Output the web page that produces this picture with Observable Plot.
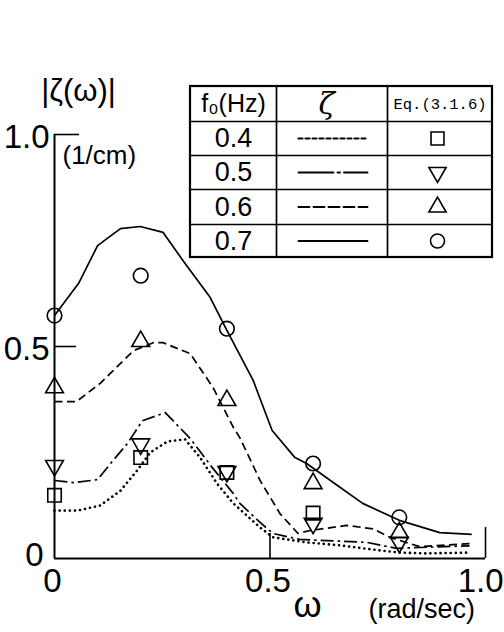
<!DOCTYPE html>
<html><head><meta charset="utf-8">
<script src="https://cdn.jsdelivr.net/npm/d3@7"></script>
<script src="https://cdn.jsdelivr.net/npm/@observablehq/plot@0.6"></script>
<style>body{margin:0;background:#fff} svg{display:block}</style>
</head><body><div id="chart"></div>
<script>
// ---- data ----
const seriesNames = ["0.4", "0.5", "0.6", "0.7"];
const dashPatterns = ["0.1,5", "13,4,2.5,4", "8,4.5", "none"];
const legendDash = ["4,3", "35,4,2.5,4", "11,4", "none"];
const markerSymbols = ["square", "triangle", "triangle", "circle"];
const markerRotate = [0, 180, 0, 0];

// computed curves (ζ)
const omega04 = [0, 0.053, 0.106, 0.153, 0.192, 0.222, 0.262, 0.303, 0.338, 0.377, 0.415, 0.477, 0.507, 0.585, 0.662, 0.755, 0.80, 0.863, 0.963];
const zeta04  = [0.113, 0.113, 0.125, 0.16, 0.208, 0.25, 0.276, 0.281, 0.238, 0.177, 0.13, 0.073, 0.05, 0.038, 0.031, 0.019, 0.014, 0.012, 0.014];
const omega05 = [0, 0.044, 0.10, 0.13, 0.169, 0.204, 0.257, 0.315, 0.368, 0.415, 0.43, 0.477, 0.507, 0.569, 0.725, 0.794, 0.847, 0.963];
const zeta05  = [0.184, 0.179, 0.186, 0.224, 0.271, 0.325, 0.344, 0.283, 0.212, 0.153, 0.13, 0.085, 0.059, 0.045, 0.038, 0.024, 0.026, 0.03];
const omega06 = [0, 0.051, 0.106, 0.183, 0.229, 0.252, 0.315, 0.368, 0.415, 0.43, 0.477, 0.523, 0.565, 0.593, 0.678, 0.739, 0.778, 0.847, 0.963];
const zeta06  = [0.37, 0.37, 0.413, 0.49, 0.509, 0.509, 0.483, 0.403, 0.309, 0.285, 0.184, 0.106, 0.059, 0.066, 0.078, 0.07, 0.05, 0.028, 0.035];
const omega07 = [0, 0.056, 0.10, 0.153, 0.199, 0.252, 0.30, 0.361, 0.40, 0.461, 0.505, 0.558, 0.585, 0.65, 0.715, 0.80, 0.894, 0.968];
const zeta07  = [0.573, 0.649, 0.738, 0.778, 0.783, 0.769, 0.70, 0.616, 0.538, 0.42, 0.302, 0.238, 0.224, 0.177, 0.13, 0.09, 0.061, 0.057];

// Eq.(3.1.6) markers
const markerOmega = [0, 0.2, 0.4, 0.6];
const markerOmegaFull = [0, 0.2, 0.4, 0.6, 0.8];
const eq04 = [0.149, 0.238, 0.203, 0.107];
const eq05 = [0.219, 0.27, 0.205, 0.083, 0.038];
const eq06 = [0.403, 0.512, 0.373, 0.177, 0.061];
const eq07 = [0.573, 0.667, 0.542, 0.224, 0.097];

// axis ticks
const xTickLabels = ["0", "0.5", "1.0"];
const xTickValues = [0, 0.5, 1.0];
const yTickLabels = ["0", "0.5", "1.0"];
const yTickValues = [0, 0.5, 1.0];

// ---- build tables ----
const curves = [
  {name: "0.4", x: omega04, y: zeta04},
  {name: "0.5", x: omega05, y: zeta05},
  {name: "0.6", x: omega06, y: zeta06},
  {name: "0.7", x: omega07, y: zeta07}
];
const markerSets = [
  {name: "0.4", x: markerOmega, y: eq04},
  {name: "0.5", x: markerOmegaFull, y: eq05},
  {name: "0.6", x: markerOmegaFull, y: eq06},
  {name: "0.7", x: markerOmegaFull, y: eq07}
];

// layout helpers (pixel -> data for table placement)
const X0 = 54, XW = 431, Y0 = 558, YH = 424;
const px = p => (p - X0) / XW;
const py = p => (Y0 - p) / YH;

const FONT = "Liberation Sans, Arial, sans-serif";
const marks = [];

// curves
curves.forEach((c, i) => {
  const pts = c.x.map((x, j) => ({x, y: c.y[j]}));
  marks.push(Plot.line(pts, {x: "x", y: "y", stroke: "#000", strokeWidth: i === 0 ? 2.6 : 1.7,
    strokeDasharray: dashPatterns[i], strokeLinecap: i === 0 ? "round" : "butt", strokeLinejoin: "round"}));
});
// markers
markerSets.forEach((m, i) => {
  const pts = m.x.map((x, j) => ({x, y: m.y[j]}));
  marks.push(Plot.dot(pts, {x: "x", y: "y", symbol: () => markerSymbols[i], rotate: markerRotate[i],
    r: markerSymbols[i] === "circle" ? 7.3 : (markerSymbols[i] === "square" ? 7.6 : 6.6),
    stroke: "#000", strokeWidth: 1.6, fill: "none"}));
});

// axes frame
marks.push(Plot.ruleY([0], {x1: 0, x2: 1.0, stroke: "#000", strokeWidth: 2}));
marks.push(Plot.ruleX([0], {y1: 0, y2: 1.0, stroke: "#000", strokeWidth: 2}));
// inward ticks
marks.push(Plot.ruleY([0.5], {x1: 0, x2: 0.051, stroke: "#000", strokeWidth: 1.6}));
marks.push(Plot.ruleY([1.0], {x1: 0, x2: 0.058, stroke: "#000", strokeWidth: 1.6}));
marks.push(Plot.ruleX([0.5], {y1: 0, y2: 0.059, stroke: "#000", strokeWidth: 1.6}));
marks.push(Plot.ruleX([1.0], {y1: 0, y2: 0.073, stroke: "#000", strokeWidth: 1.6}));

// tick labels
const yLab = yTickValues.map((v, i) => ({v, t: yTickLabels[i]}));
marks.push(Plot.text(yLab.filter(d => d.v > 0), {x: () => 0, y: "v", text: "t", textAnchor: "end", dx: -5, dy: 3, fontSize: 33, fontFamily: FONT}));
marks.push(Plot.text(yLab.filter(d => d.v === 0), {x: () => 0, y: "v", text: "t", textAnchor: "end", dx: -11, dy: -3, fontSize: 33, fontFamily: FONT}));
const xLab = xTickValues.map((v, i) => ({v, t: xTickLabels[i]}));
marks.push(Plot.text(xLab.filter(d => d.v < 1), {x: "v", y: () => 0, text: "t", dy: 23, dx: -2, fontSize: 33, fontFamily: FONT}));
marks.push(Plot.text(xLab.filter(d => d.v === 1), {x: "v", y: () => 0, text: "t", textAnchor: "end", dy: 23, dx: 18, fontSize: 33, fontFamily: FONT}));

// axis titles
marks.push(Plot.text(["|ζ(ω)|"], {x: () => px(78), y: () => py(91), text: d => d, fontSize: 31, fontFamily: FONT}));
marks.push(Plot.text(["(1/cm)"], {x: () => px(62), y: () => py(155), text: d => d, textAnchor: "start", fontSize: 26, fontFamily: FONT}));
marks.push(Plot.text(["ω"], {x: () => px(307), y: () => py(605), text: d => d, fontSize: 36, fontFamily: FONT}));
marks.push(Plot.text(["(rad/sec)"], {x: () => px(368), y: () => py(609), text: d => d, textAnchor: "start", fontSize: 27, fontFamily: FONT}));

// ---- legend table ----
const colEdges = [190, 276, 387, 492];
const rowEdges = [86, 121, 155, 189, 224, 257];
marks.push(Plot.rect([0], {x1: () => px(colEdges[0]), x2: () => px(colEdges[3]), y1: () => py(rowEdges[0]), y2: () => py(rowEdges[5]), fill: "#fff", stroke: "#000", strokeWidth: 2.2}));
marks.push(Plot.ruleX(colEdges.slice(1, 3), {x: d => px(d), y1: () => py(rowEdges[0]), y2: () => py(rowEdges[5]), stroke: "#000", strokeWidth: 1.7}));
marks.push(Plot.ruleY(rowEdges.slice(1, 5), {y: d => py(d), x1: () => px(colEdges[0]), x2: () => px(colEdges[3]), stroke: "#000", strokeWidth: 1.5}));
const hdrY = py((rowEdges[0] + rowEdges[1]) / 2);
marks.push(Plot.text(["f₀(Hz)"], {x: () => px(233), y: () => hdrY, text: d => d, fontSize: 25, fontFamily: FONT}));
marks.push(Plot.text(["ζ"], {x: () => px(326), y: () => hdrY, text: d => d, fontSize: 30, fontStyle: "italic", fontFamily: "DejaVu Serif, serif"}));
marks.push(Plot.text(["Eq.(3.1.6)"], {x: () => px(439.5), y: () => hdrY, text: d => d, fontSize: 15.5, fontFamily: "Liberation Mono, monospace"}));
const legRows = seriesNames.map((name, i) => ({name, i, yc: py((rowEdges[i + 1] + rowEdges[i + 2]) / 2)}));
marks.push(Plot.text(legRows, {x: () => px(233), y: "yc", text: "name", fontSize: 27, fontFamily: FONT}));
legRows.forEach((r, i) => {
  marks.push(Plot.line([px(298), px(367)].map(x => ({x, y: r.yc})), {x: "x", y: "y", stroke: "#000",
    strokeWidth: i === 0 ? 2.2 : 1.9, strokeDasharray: legendDash[i]}));
  marks.push(Plot.dot([r], {x: () => px(437), y: "yc", symbol: () => markerSymbols[i], rotate: markerRotate[i],
    r: markerSymbols[i] === "circle" ? 7 : (markerSymbols[i] === "square" ? 7.3 : 6.4),
    stroke: "#000", strokeWidth: 1.6, fill: "none"}));
});

const chart = Plot.plot({
  width: 504, height: 632,
  marginLeft: 54, marginRight: 19, marginTop: 134, marginBottom: 74,
  x: {domain: [0, 1], axis: null},
  y: {domain: [0, 1], axis: null},
  style: {background: "#fff", color: "#000"},
  marks
});
document.getElementById("chart").appendChild(chart);
</script>
</body></html>
